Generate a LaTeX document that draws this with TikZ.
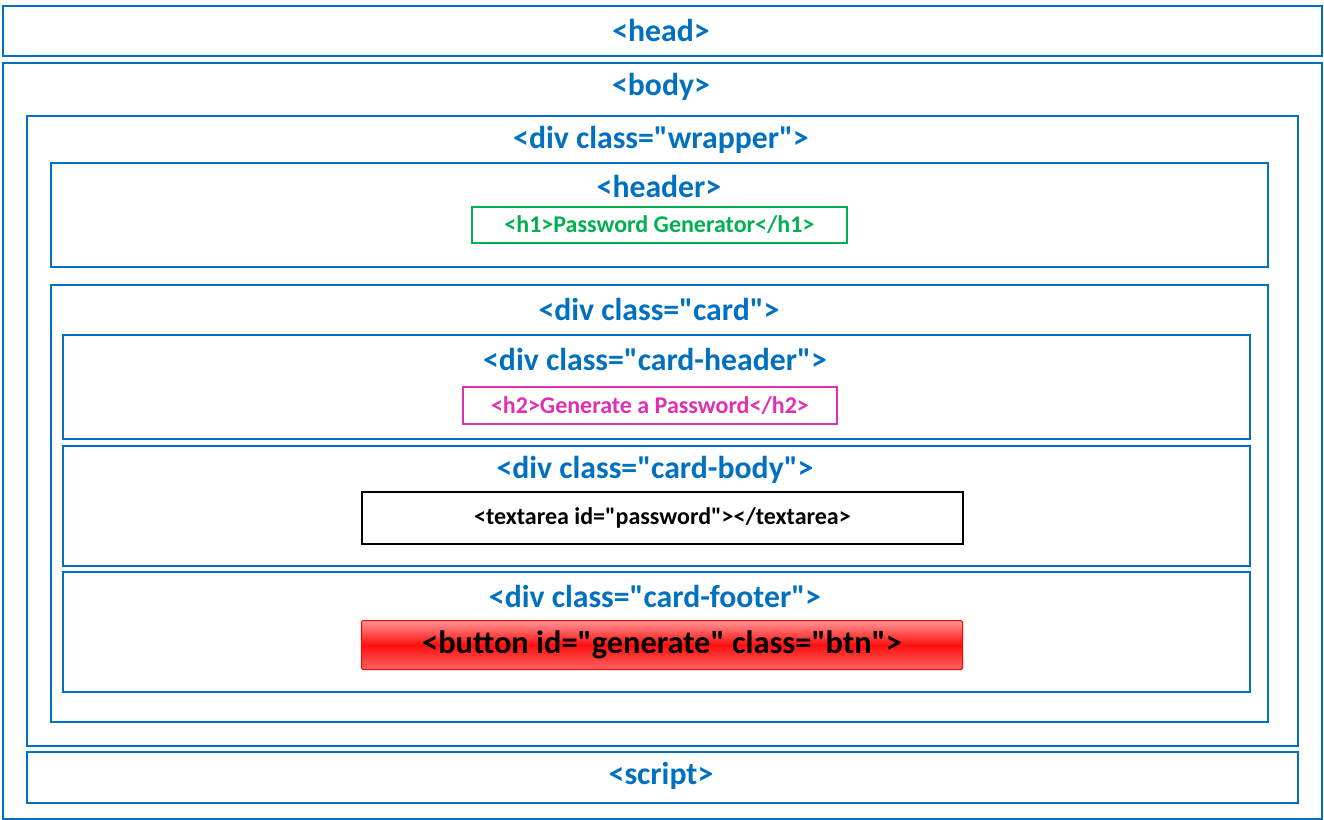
\documentclass[tikz,border=0pt]{standalone}
\usepackage{fontspec}
\setmainfont{Carlito}[Ligatures=TeXOff]
\definecolor{hblue}{RGB}{0,112,192}
\definecolor{hgreen}{RGB}{0,176,80}
\definecolor{hpink}{RGB}{224,48,176}
\definecolor{btnlight}{RGB}{255,150,150}
\definecolor{btnmid}{RGB}{255,15,15}
\definecolor{btnlow}{RGB}{255,100,100}
\tikzset{
  x=0.75pt, y=-0.75pt,
  frame/.style={draw=hblue, line width=1.6pt, inner sep=0pt, anchor=north west},
  tagbox/.style={line width=1.4pt, inner sep=0pt, anchor=north west},
  bluetag/.style={text=hblue, font=\bfseries\fontsize{23.8}{28}\selectfont, inner sep=0pt},
  smalltag/.style={font=\bfseries\fontsize{18}{21}\selectfont, inner sep=0pt},
}
\begin{document}
\begin{tikzpicture}
\useasboundingbox (0,0) rectangle (1324,820);
% frames
\node[frame, minimum width=989.25pt, minimum height=37.5pt] (head) at (2,5) {};
\node[frame, minimum width=989.25pt, minimum height=567pt] (body) at (2,62) {};
\node[frame, minimum width=953.25pt, minimum height=472.5pt] (wrapper) at (26,115) {};
\node[frame, minimum width=912.75pt, minimum height=78pt] (header) at (50,162) {};
\node[tagbox, draw=hgreen, minimum width=281.25pt, minimum height=27pt] (h1box) at (471,206) {};
\node[frame, minimum width=912.75pt, minimum height=327.75pt] (card) at (50,284) {};
\node[frame, minimum width=890.25pt, minimum height=78pt] (cardheader) at (62,334) {};
\node[tagbox, draw=hpink, minimum width=280.5pt, minimum height=27.75pt] (h2box) at (462,386) {};
\node[frame, minimum width=890.25pt, minimum height=90pt] (cardbody) at (62,445) {};
\node[tagbox, draw=black, minimum width=450.75pt, minimum height=39pt] (textarea) at (361,491) {};
\node[frame, minimum width=890.25pt, minimum height=90pt] (cardfooter) at (62,571) {};
\node[tagbox, draw=red, line width=0.8pt, rounded corners=1.5pt, top color=btnlight, bottom color=btnlow, middle color=btnmid, minimum width=450.75pt, minimum height=36.75pt] (button) at (361,620) {};
\node[frame, minimum width=953.25pt, minimum height=38.25pt] (script) at (26,751) {};
% labels
\node[bluetag] (headt) at (661,30) {<head>};
\node[bluetag] (bodyt) at (661,87) {<body>};
\node[bluetag] (wrappert) at (661,140) {<div class="wrapper">};
\node[bluetag] (headert) at (659,186) {<header>};
\node[smalltag, text=hgreen] (h1t) at (h1box.center) {<h1>Password Generator</h1>};
\node[bluetag] (cardt) at (659,309) {<div class="card">};
\node[bluetag] (cardheadert) at (655,359) {<div class="card-header">};
\node[smalltag, text=hpink] (h2t) at (h2box.center) {<h2>Generate a Password</h2>};
\node[bluetag] (cardbodyt) at (655,470) {<div class="card-body">};
\node[smalltag, text=black] (textareat) at (textarea.center) {<textarea id="password"></textarea>};
\node[bluetag] (cardfootert) at (655,596) {<div class="card-footer">};
\node[text=black, font=\bfseries\fontsize{24.3}{28}\selectfont, inner sep=0pt] (buttont) at (button.center) {<button id="generate" class="btn">};
\node[bluetag] (scriptt) at (661,776) {<script>};
\end{tikzpicture}
\end{document}
